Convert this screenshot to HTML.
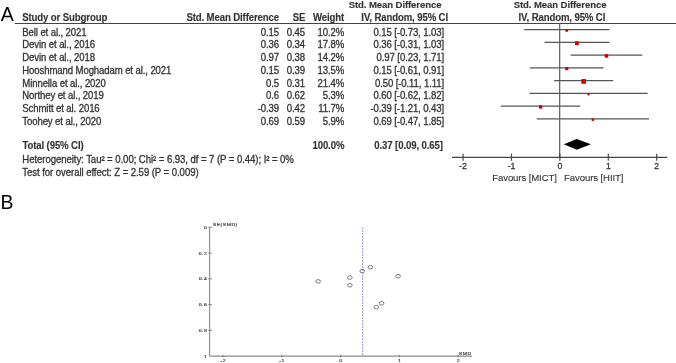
<!DOCTYPE html><html><head><meta charset="utf-8"><style>html,body{margin:0;padding:0;background:#fff;width:676px;height:363px;overflow:hidden;}svg{display:block;filter:blur(0.4px);}text{font-family:"Liberation Sans",sans-serif;}</style></head><body>
<svg width="676" height="363" viewBox="0 0 676 363">
<rect width="676" height="363" fill="#fff"/>
<g font-size="20" fill="#000">
<text transform="translate(0.7,20.6) scale(0.98,1.02)">A</text>
<text transform="translate(0.6,208.6) scale(0.97,1)">B</text>
</g>
<g font-size="9.6" font-weight="bold" fill="#333" letter-spacing="-0.11" stroke="#333" stroke-width="0.12">
<text x="348.70" y="8.20">Std. Mean Difference</text>
<text x="513.70" y="8.20">Std. Mean Difference</text>
<text transform="translate(22.20,20.80) scale(1,1.05)">Study or Subgroup</text>
<text transform="translate(279.00,20.80) scale(1,1.05)" text-anchor="end">Std. Mean Difference</text>
<text transform="translate(305.20,20.80) scale(1,1.05)" text-anchor="end">SE</text>
<text transform="translate(344.20,20.80) scale(1,1.05)" text-anchor="end">Weight</text>
<text transform="translate(448.00,20.80) scale(1,1.05)" text-anchor="end">IV, Random, 95% CI</text>
<text transform="translate(605.20,20.80) scale(1,1.05)" text-anchor="end">IV, Random, 95% CI</text>
<text transform="translate(22.40,148.80) scale(1,1.06)">Total (95% CI)</text>
<text transform="translate(344.30,148.80) scale(1,1.06)" text-anchor="end">100.0%</text>
<text transform="translate(442.80,148.80) scale(1,1.06)" text-anchor="end">0.37 [0.09, 0.65]</text>
</g>
<line x1="14.8" y1="23.5" x2="676" y2="23.5" stroke="#444" stroke-width="1.15"/>
<g font-size="9.6" fill="#333" letter-spacing="-0.11" stroke="#333" stroke-width="0.28">
<text transform="translate(22.30,35.70) scale(1,1.06)">Bell et al., 2021</text>
<text transform="translate(279.00,35.70) scale(1,1.06)" text-anchor="end">0.15</text>
<text transform="translate(305.00,35.70) scale(1,1.06)" text-anchor="end">0.45</text>
<text transform="translate(344.20,35.70) scale(1,1.06)" text-anchor="end">10.2%</text>
<text transform="translate(444.00,35.70) scale(1,1.06)" text-anchor="end">0.15 [-0.73, 1.03]</text>
<text transform="translate(22.30,48.42) scale(1,1.06)">Devin et al., 2016</text>
<text transform="translate(279.00,48.42) scale(1,1.06)" text-anchor="end">0.36</text>
<text transform="translate(305.00,48.42) scale(1,1.06)" text-anchor="end">0.34</text>
<text transform="translate(344.20,48.42) scale(1,1.06)" text-anchor="end">17.8%</text>
<text transform="translate(444.00,48.42) scale(1,1.06)" text-anchor="end">0.36 [-0.31, 1.03]</text>
<text transform="translate(22.30,61.14) scale(1,1.06)">Devin et al., 2018</text>
<text transform="translate(279.00,61.14) scale(1,1.06)" text-anchor="end">0.97</text>
<text transform="translate(305.00,61.14) scale(1,1.06)" text-anchor="end">0.38</text>
<text transform="translate(344.20,61.14) scale(1,1.06)" text-anchor="end">14.2%</text>
<text transform="translate(444.00,61.14) scale(1,1.06)" text-anchor="end">0.97 [0.23, 1.71]</text>
<text transform="translate(22.30,73.86) scale(1,1.06)">Hooshmand Moghadam et al., 2021</text>
<text transform="translate(279.00,73.86) scale(1,1.06)" text-anchor="end">0.15</text>
<text transform="translate(305.00,73.86) scale(1,1.06)" text-anchor="end">0.39</text>
<text transform="translate(344.20,73.86) scale(1,1.06)" text-anchor="end">13.5%</text>
<text transform="translate(444.00,73.86) scale(1,1.06)" text-anchor="end">0.15 [-0.61, 0.91]</text>
<text transform="translate(22.30,86.58) scale(1,1.06)">Minnella et al., 2020</text>
<text transform="translate(279.00,86.58) scale(1,1.06)" text-anchor="end">0.5</text>
<text transform="translate(305.00,86.58) scale(1,1.06)" text-anchor="end">0.31</text>
<text transform="translate(344.20,86.58) scale(1,1.06)" text-anchor="end">21.4%</text>
<text transform="translate(444.00,86.58) scale(1,1.06)" text-anchor="end">0.50 [-0.11, 1.11]</text>
<text transform="translate(22.30,99.30) scale(1,1.06)">Northey et al., 2019</text>
<text transform="translate(279.00,99.30) scale(1,1.06)" text-anchor="end">0.6</text>
<text transform="translate(305.00,99.30) scale(1,1.06)" text-anchor="end">0.62</text>
<text transform="translate(344.20,99.30) scale(1,1.06)" text-anchor="end">5.3%</text>
<text transform="translate(444.00,99.30) scale(1,1.06)" text-anchor="end">0.60 [-0.62, 1.82]</text>
<text transform="translate(22.30,112.02) scale(1,1.06)">Schmitt et al. 2016</text>
<text transform="translate(279.00,112.02) scale(1,1.06)" text-anchor="end">-0.39</text>
<text transform="translate(305.00,112.02) scale(1,1.06)" text-anchor="end">0.42</text>
<text transform="translate(344.20,112.02) scale(1,1.06)" text-anchor="end">11.7%</text>
<text transform="translate(444.00,112.02) scale(1,1.06)" text-anchor="end">-0.39 [-1.21, 0.43]</text>
<text transform="translate(22.30,124.74) scale(1,1.06)">Toohey et al., 2020</text>
<text transform="translate(279.00,124.74) scale(1,1.06)" text-anchor="end">0.69</text>
<text transform="translate(305.00,124.74) scale(1,1.06)" text-anchor="end">0.59</text>
<text transform="translate(344.20,124.74) scale(1,1.06)" text-anchor="end">5.9%</text>
<text transform="translate(444.00,124.74) scale(1,1.06)" text-anchor="end">0.69 [-0.47, 1.85]</text>
<g font-size="9.6" letter-spacing="-0.065">
<text transform="translate(22.30,163.10) scale(1,1.06)">Heterogeneity: Tau² = 0.00; Chi² = 6.93, df = 7 (P = 0.44); I² = 0%</text>
<text transform="translate(22.30,175.80) scale(1,1.06)">Test for overall effect: Z = 2.59 (P = 0.009)</text>
</g>
<g font-size="8.7">
<text x="463.10" y="168.80" text-anchor="middle">-2</text>
<text x="511.50" y="168.80" text-anchor="middle">-1</text>
<text x="559.90" y="168.80" text-anchor="middle">0</text>
<text x="608.30" y="168.80" text-anchor="middle">1</text>
<text x="656.70" y="168.80" text-anchor="middle">2</text>
</g>
<g stroke-width="0.1">
<text x="556.80" y="180.50" text-anchor="end">Favours [MICT]</text>
<text x="564.10" y="180.50">Favours [HIIT]</text>
</g>
</g>
<g stroke="#555" stroke-width="1.15">
<line x1="559.7" y1="23.5" x2="559.7" y2="157"/>
<line x1="524.17" y1="29.60" x2="609.35" y2="29.60"/>
<line x1="544.50" y1="42.36" x2="609.35" y2="42.36"/>
<line x1="570.63" y1="55.11" x2="642.26" y2="55.11"/>
<line x1="529.98" y1="67.87" x2="603.54" y2="67.87"/>
<line x1="554.18" y1="80.63" x2="613.22" y2="80.63"/>
<line x1="529.49" y1="93.38" x2="647.59" y2="93.38"/>
<line x1="500.94" y1="106.14" x2="580.31" y2="106.14"/>
<line x1="536.75" y1="118.90" x2="649.04" y2="118.90"/>
</g>
<g fill="#cc0000">
<rect x="565.41" y="29.05" width="2.70" height="2.70"/>
<rect x="575.02" y="41.26" width="3.80" height="3.80"/>
<rect x="604.70" y="54.16" width="3.50" height="3.50"/>
<rect x="565.21" y="67.12" width="3.10" height="3.10"/>
<rect x="581.35" y="79.08" width="4.70" height="4.70"/>
<rect x="587.39" y="93.03" width="2.30" height="2.30"/>
<rect x="538.97" y="105.29" width="3.30" height="3.30"/>
<rect x="591.70" y="118.50" width="2.40" height="2.40"/>
</g>
<polygon points="563.86,144.3 576.7,138.9 590.96,144.3 576.7,149.8" fill="#000"/>
<g stroke="#444" stroke-width="1.15">
<line x1="452" y1="157.35" x2="667.3" y2="157.35"/>
<line x1="463.10" y1="153.7" x2="463.10" y2="160.7"/>
<line x1="511.50" y1="153.7" x2="511.50" y2="160.7"/>
<line x1="559.90" y1="153.7" x2="559.90" y2="160.7"/>
<line x1="608.30" y1="153.7" x2="608.30" y2="160.7"/>
<line x1="656.70" y1="153.7" x2="656.70" y2="160.7"/>
</g>
<g stroke="#8a8a8a" stroke-width="1.1">
<line x1="209.6" y1="227.30" x2="209.6" y2="356.10"/>
<line x1="209.6" y1="356.10" x2="472" y2="356.10"/>
<line x1="208.3" y1="227.30" x2="212" y2="227.30"/>
<line x1="208.3" y1="253.06" x2="212" y2="253.06"/>
<line x1="208.3" y1="278.82" x2="212" y2="278.82"/>
<line x1="208.3" y1="304.58" x2="212" y2="304.58"/>
<line x1="208.3" y1="330.34" x2="212" y2="330.34"/>
<line x1="223.00" y1="354.8" x2="223.00" y2="357.5"/>
<line x1="281.80" y1="354.8" x2="281.80" y2="357.5"/>
<line x1="340.60" y1="354.8" x2="340.60" y2="357.5"/>
<line x1="399.40" y1="354.8" x2="399.40" y2="357.5"/>
<line x1="458.20" y1="354.8" x2="458.20" y2="357.5"/>
</g>
<g font-size="5.1" fill="#2a2a2a" letter-spacing="0.5" stroke="#2a2a2a" stroke-width="0.15">
<text transform="translate(207.30,228.90) scale(1,0.85)" text-anchor="end">0</text>
<text transform="translate(207.30,254.66) scale(1,0.85)" text-anchor="end">0.2</text>
<text transform="translate(207.30,280.42) scale(1,0.85)" text-anchor="end">0.4</text>
<text transform="translate(207.30,306.18) scale(1,0.85)" text-anchor="end">0.6</text>
<text transform="translate(207.30,331.94) scale(1,0.85)" text-anchor="end">0.8</text>
<text transform="translate(207.30,357.70) scale(1,0.85)" text-anchor="end">1</text>
<text transform="translate(223.30,362.00) scale(1,0.85)" text-anchor="middle">-2</text>
<text transform="translate(282.10,362.00) scale(1,0.85)" text-anchor="middle">-1</text>
<text transform="translate(340.90,362.00) scale(1,0.85)" text-anchor="middle">0</text>
<text transform="translate(399.70,362.00) scale(1,0.85)" text-anchor="middle">1</text>
<text transform="translate(458.50,362.00) scale(1,0.85)" text-anchor="middle">2</text>
<text transform="translate(212.80,226.30) scale(1,0.85)">SE(SMD)</text>
<text transform="translate(458.80,354.60) scale(1,0.85)">SMD</text>
</g>
<line x1="362.7" y1="227.3" x2="362.7" y2="356" stroke="#7c7cd8" stroke-width="1.1" stroke-dasharray="1.5,1.5"/>
<g fill="none" stroke="#5a5a5a" stroke-width="0.8">
<ellipse cx="349.87" cy="285.26" rx="2.3" ry="1.8"/>
<ellipse cx="362.22" cy="271.09" rx="2.3" ry="1.8"/>
<ellipse cx="398.09" cy="276.24" rx="2.3" ry="1.8"/>
<ellipse cx="349.87" cy="277.53" rx="2.3" ry="1.8"/>
<ellipse cx="370.45" cy="267.23" rx="2.3" ry="1.8"/>
<ellipse cx="376.33" cy="307.16" rx="2.3" ry="1.8"/>
<ellipse cx="318.12" cy="281.40" rx="2.3" ry="1.8"/>
<ellipse cx="381.62" cy="303.29" rx="2.3" ry="1.8"/>
</g>
</svg></body></html>
